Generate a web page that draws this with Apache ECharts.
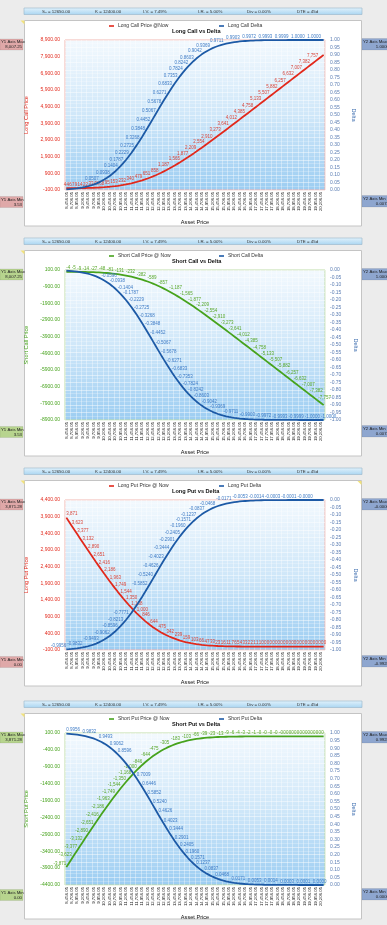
<!DOCTYPE html>
<html><head><meta charset="utf-8">
<script src="https://cdn.jsdelivr.net/npm/echarts@6/dist/echarts.min.js"></script>
<style>
html,body{margin:0;padding:0;background:#ececec;width:387px;height:925px;overflow:hidden}
.p{position:absolute;left:0;width:387px;height:230px}
</style></head><body>
<div id="c0" class="p" style="top:0"></div>
<div id="c1" class="p" style="top:230px"></div>
<div id="c2" class="p" style="top:460px"></div>
<div id="c3" class="p" style="top:693px;height:232px"></div>
<script>
const assetPrices = [8456.05,8581.05,8706.05,8831.05,8956.05,9081.05,9206.05,9331.05,9456.05,9581.05,
9706.05,9831.05,9956.05,10081.05,10206.05,10331.05,10456.05,10581.05,10706.05,10831.05,
10956.05,11081.05,11206.05,11331.05,11456.05,11581.05,11706.05,11831.05,11956.05,12081.05,
12206.05,12331.05,12456.05,12581.05,12706.05,12831.05,12956.05,13081.05,13206.05,13331.05,
13456.05,13581.05,13706.05,13831.05,13956.05,14081.05,14206.05,14331.05,14456.05,14581.05,
14706.05,14831.05,14956.05,15081.05,15206.05,15331.05,15456.05,15581.05,15706.05,15831.05,
15956.05,16081.05,16206.05,16331.05,16456.05,16581.05,16706.05,16831.05,16956.05,17081.05,
17206.05,17331.05,17456.05,17581.05,17706.05,17831.05,17956.05,18081.05,18206.05,18331.05,
18456.05,18581.05,18706.05,18831.05,18956.05,19081.05,19206.05,19331.05,19456.05,19581.05,
19706.05,19831.05,19956.05,20081.05,20206.05,20331.05];

const longCallPrice = [3.53,4.3,5.5,7.2,9.2,11.5,14.3,17.9,22.2,27.3,
33.3,40.3,48.3,57.6,68.3,80.8,95.3,112.0,131.0,152.5,
176.0,203.0,232.3,264.0,300.5,339.8,382.0,428.5,478.5,532.0,
589.5,650.8,716.0,785.0,857.5,933.5,1015.0,1099.5,1187.2,1278.0,
1371.5,1467.2,1565.0,1666.5,1770.5,1877.0,1985.5,2096.2,2209.0,2322.8,
2437.8,2554.0,2671.5,2790.2,2910.0,3030.3,3151.3,3273.0,3395.3,3518.0,
3641.1,3764.5,3888.2,4012.1,4136.2,4260.45,4384.8,4509.25,4633.8,4758.45,
4883.15,5007.9,5132.72,5257.58,5382.48,5507.4,5632.35,5757.31,5882.29,6007.27,
6132.26,6257.25,6382.25,6507.25,6632.25,6757.25,6882.25,7007.25,7132.25,7257.25,
7382.25,7507.25,7632.25,7757.25,7882.25,8007.25];

const longCallDelta = [0.0044,0.0056,0.0071,0.0089,0.0111,0.0137,0.0168,0.0205,0.0249,0.0300,
0.0359,0.0428,0.0507,0.0596,0.0698,0.0811,0.0938,0.1079,0.1234,0.1404,
0.1588,0.1787,0.2001,0.2229,0.2471,0.2725,0.2991,0.3268,0.3554,0.3848,
0.4148,0.4452,0.4760,0.5067,0.5374,0.5678,0.5977,0.6271,0.6556,0.6833,
0.7099,0.7353,0.7595,0.7824,0.8040,0.8242,0.8429,0.8603,0.8763,0.8909,
0.9042,0.9163,0.9271,0.9369,0.9455,0.9532,0.9600,0.9660,0.9711,0.9756,
0.9795,0.9829,0.9858,0.9882,0.9903,0.9920,0.9934,0.9947,0.9957,0.9965,
0.9972,0.9978,0.9982,0.9986,0.9989,0.9991,0.9993,0.9995,0.9996,0.9997,
0.9998,0.9998,0.9999,0.9999,0.9999,0.9999,1.0000,1.0000,1.0000,1.0000,
1.0000,1.0000,1.0000,1.0000,1.0000,1.0000];

const shortCallPrice = [-3.53,-4.3,-5.5,-7.2,-9.2,-11.5,-14.3,-17.9,-22.2,-27.3,
-33.3,-40.3,-48.3,-57.6,-68.3,-80.8,-95.3,-112.0,-131.0,-152.5,
-176.0,-203.0,-232.3,-264.0,-300.5,-339.8,-382.0,-428.5,-478.5,-532.0,
-589.5,-650.8,-716.0,-785.0,-857.5,-933.5,-1015.0,-1099.5,-1187.2,-1278.0,
-1371.5,-1467.2,-1565.0,-1666.5,-1770.5,-1877.0,-1985.5,-2096.2,-2209.0,-2322.8,
-2437.8,-2554.0,-2671.5,-2790.2,-2910.0,-3030.3,-3151.3,-3273.0,-3395.3,-3518.0,
-3641.1,-3764.5,-3888.2,-4012.1,-4136.2,-4260.45,-4384.8,-4509.25,-4633.8,-4758.45,
-4883.15,-5007.9,-5132.72,-5257.58,-5382.48,-5507.4,-5632.35,-5757.31,-5882.29,-6007.27,
-6132.26,-6257.25,-6382.25,-6507.25,-6632.25,-6757.25,-6882.25,-7007.25,-7132.25,-7257.25,
-7382.25,-7507.25,-7632.25,-7757.25,-7882.25,-8007.25];

const shortCallDelta = [-0.0044,-0.0056,-0.0071,-0.0089,-0.0111,-0.0137,-0.0168,-0.0205,-0.0249,-0.0300,
-0.0359,-0.0428,-0.0507,-0.0596,-0.0698,-0.0811,-0.0938,-0.1079,-0.1234,-0.1404,
-0.1588,-0.1787,-0.2001,-0.2229,-0.2471,-0.2725,-0.2991,-0.3268,-0.3554,-0.3848,
-0.4148,-0.4452,-0.4760,-0.5067,-0.5374,-0.5678,-0.5977,-0.6271,-0.6556,-0.6833,
-0.7099,-0.7353,-0.7595,-0.7824,-0.8040,-0.8242,-0.8429,-0.8603,-0.8763,-0.8909,
-0.9042,-0.9163,-0.9271,-0.9369,-0.9455,-0.9532,-0.9600,-0.9660,-0.9711,-0.9756,
-0.9795,-0.9829,-0.9858,-0.9882,-0.9903,-0.9920,-0.9934,-0.9947,-0.9957,-0.9965,
-0.9972,-0.9978,-0.9982,-0.9986,-0.9989,-0.9991,-0.9993,-0.9995,-0.9996,-0.9997,
-0.9998,-0.9998,-0.9999,-0.9999,-0.9999,-0.9999,-1.0000,-1.0000,-1.0000,-1.0000,
-1.0000,-1.0000,-1.0000,-1.0000,-1.0000,-1.0000];

const longPutPrice = [3871.28,3747.05,3623.25,3499.95,3376.95,3254.25,3132.05,3010.65,2889.95,2770.05,
2651.05,2533.05,2416.05,2300.35,2186.05,2073.55,1963.05,1854.75,1748.75,1645.25,
1543.75,1445.75,1350.05,1256.75,1168.25,1082.55,999.75,921.25,846.25,774.75,
707.25,643.55,583.75,527.75,475.25,426.25,382.75,342.25,304.95,270.75,
239.25,209.95,182.75,159.25,138.25,119.75,103.25,88.95,76.75,65.55,
55.55,46.75,39.25,32.95,27.75,23.05,19.05,15.75,13.05,10.75,
8.85,7.25,5.95,4.85,3.95,3.2,2.55,2.0,1.55,1.2,
0.9,0.65,0.47,0.33,0.23,0.15,0.1,0.06,0.04,0.02,
0.01,0,0,0,0,0,0,0,0,0,
0,0,0,0,0,0];

const longPutDelta = [-0.9956,-0.9944,-0.9929,-0.9911,-0.9889,-0.9863,-0.9832,-0.9795,-0.9751,-0.9700,
-0.9641,-0.9572,-0.9493,-0.9404,-0.9302,-0.9189,-0.9062,-0.8921,-0.8766,-0.8596,
-0.8412,-0.8213,-0.7999,-0.7771,-0.7529,-0.7275,-0.7009,-0.6732,-0.6446,-0.6152,
-0.5852,-0.5548,-0.5240,-0.4933,-0.4626,-0.4322,-0.4023,-0.3729,-0.3444,-0.3167,
-0.2901,-0.2647,-0.2405,-0.2176,-0.1960,-0.1758,-0.1571,-0.1397,-0.1237,-0.1091,
-0.0958,-0.0837,-0.0729,-0.0631,-0.0545,-0.0468,-0.0400,-0.0340,-0.0289,-0.0244,
-0.0205,-0.0171,-0.0142,-0.0118,-0.0097,-0.0080,-0.0066,-0.0053,-0.0043,-0.0035,
-0.0028,-0.0022,-0.0018,-0.0014,-0.0011,-0.0009,-0.0007,-0.0005,-0.0004,-0.0003,
-0.0002,-0.0002,-0.0001,-0.0001,-0.0001,-0.0001,-0.00001,-0.00001,-0.00001,-0.00001,
-0.00001,-0.00001,-0.00001,-0.00001,-0.00001,-0.00001];

const shortPutPrice = [-3871.28,-3747.05,-3623.25,-3499.95,-3376.95,-3254.25,-3132.05,-3010.65,-2889.95,-2770.05,
-2651.05,-2533.05,-2416.05,-2300.35,-2186.05,-2073.55,-1963.05,-1854.75,-1748.75,-1645.25,
-1543.75,-1445.75,-1350.05,-1256.75,-1168.25,-1082.55,-999.75,-921.25,-846.25,-774.75,
-707.25,-643.55,-583.75,-527.75,-475.25,-426.25,-382.75,-342.25,-304.95,-270.75,
-239.25,-209.95,-182.75,-159.25,-138.25,-119.75,-103.25,-88.95,-76.75,-65.55,
-55.55,-46.75,-39.25,-32.95,-27.75,-23.05,-19.05,-15.75,-13.05,-10.75,
-8.85,-7.25,-5.95,-4.85,-3.95,-3.2,-2.55,-2.0,-1.55,-1.2,
-0.9,-0.65,-0.47,-0.33,-0.23,-0.15,-0.1,-0.06,-0.04,-0.02,
-0.01,0,0,0,0,0,0,0,0,0,
0,0,0,0,0,0];

const shortPutDelta = [0.9956,0.9944,0.9929,0.9911,0.9889,0.9863,0.9832,0.9795,0.9751,0.9700,
0.9641,0.9572,0.9493,0.9404,0.9302,0.9189,0.9062,0.8921,0.8766,0.8596,
0.8412,0.8213,0.7999,0.7771,0.7529,0.7275,0.7009,0.6732,0.6446,0.6152,
0.5852,0.5548,0.5240,0.4933,0.4626,0.4322,0.4023,0.3729,0.3444,0.3167,
0.2901,0.2647,0.2405,0.2176,0.1960,0.1758,0.1571,0.1397,0.1237,0.1091,
0.0958,0.0837,0.0729,0.0631,0.0545,0.0468,0.0400,0.0340,0.0289,0.0244,
0.0205,0.0171,0.0142,0.0118,0.0097,0.0080,0.0066,0.0053,0.0043,0.0035,
0.0028,0.0022,0.0018,0.0014,0.0011,0.0009,0.0007,0.0005,0.0004,0.0003,
0.0002,0.0002,0.0001,0.0001,0.0001,0.0001,0.0000,0.0000,0.0000,0.0000,
0.0000,0.0000,0.0000,0.0000,0.0000,0.0000];

const infoTexts = ['S\u2080 = 12650.00','K = 12400.00','I.V. = 7.49%','I.R. = 5.00%','Div = 0.00%','DTE = 45d'];
const infoX = [42,95,143,198,247,297];

const FONT = '"Liberation Sans", Arial, Helvetica, sans-serif';
const RED='#e2291c', REDL='#d9463b', GREEN='#47a31d', GREENL='#5aa82c', BLUE='#1d5aa6', BLUEL='#3f7cc6';

const panels = [
 {title:'Long Call vs Delta', pName:'Long Call Price @Now', dName:'Long Call Delta', price:longCallPrice, delta:longCallDelta,
  pColor:RED, pLabel:REDL, y1Name:'Long Call Price', y1:[-100,8900,1000], comma:true, y2:[0,1],
  side:['8,007.25','3.53','1.0000','0.0072'], box:'#dfa8a8', border:'#f1b6b0', pAlign:'right', dAlign:'right', triR:false},
 {title:'Short Call vs Delta', pName:'Short Call Price @ Now', dName:'Short Call Delta', price:shortCallPrice, delta:shortCallDelta,
  pColor:GREEN, pLabel:GREENL, y1Name:'Short Call Price', y1:[-8900,100,1000], comma:false, y2:[-1,0],
  side:['8,007.25','3.53','1.0000','0.0072'], box:'#b7d48e', border:'#bfdca8', pAlign:'left', dAlign:'left', triR:false},
 {title:'Long Put vs Delta', pName:'Long Put Price @ Now', dName:'Long Put Delta', price:longPutPrice, delta:longPutDelta,
  pColor:RED, pLabel:REDL, y1Name:'Long Put Price', y1:[-100,4400,500], comma:true, y2:[-1,0],
  side:['3,871.28','0.00','-0.0000','-0.9928'], box:'#dfa8a8', border:'#f1b6b0', pAlign:'left', dAlign:'right', triR:true},
 {title:'Short Put vs Delta', pName:'Short Put Price @ Now', dName:'Short Put Delta', price:shortPutPrice, delta:shortPutDelta,
  pColor:GREEN, pLabel:GREENL, y1Name:'Short Put Price', y1:[-4400,100,500], comma:false, y2:[0,1],
  side:['3,871.28','0.00','0.9928','0.0000'], box:'#b7d48e', border:'#bfdca8', pAlign:'right', dAlign:'left', triR:false}
];

function fmt2(v, comma){
  return comma ? v.toLocaleString('en-US',{minimumFractionDigits:2,maximumFractionDigits:2}) : v.toFixed(2);
}
function sideBox(x, y, w, h, fill, t1, t2, right){
  return {type:'group', children:[
    {type:'rect', shape:{x:x,y:y,width:w,height:h}, style:{fill:fill, stroke:'rgba(0,0,0,0.15)', lineWidth:0.5}},
    {type:'text', x: x+1, y: y+3, style:{text:t1, fontSize:4.3, fontFamily:FONT, fill:'#222', verticalAlign:'middle'}},
    {type:'text', x: right ? x+w+1 : x+w-1, y: y+8, style:{text:t2, fontSize:4.3, fontFamily:FONT, fill:'#222', align:'right', verticalAlign:'middle'}}
  ]};
}

function build(cfg){
  const g = [];
  g.push({type:'rect', z:-10, shape:{x:24,y:8,width:338,height:6.5},
    style:{fill:{type:'linear',x:0,y:0,x2:0,y2:1,colorStops:[{offset:0,color:'#e2f2fc'},{offset:1,color:'#a9d5f1'}]}, stroke:'#98b6ca', lineWidth:0.6}});
  infoTexts.forEach((t,i)=>g.push({type:'text', z:-9, x:infoX[i], y:11.3, style:{text:t, fontSize:4.4, fontFamily:FONT, fill:'#333', verticalAlign:'middle'}}));
  g.push({type:'rect', z:-10, shape:{x:24.5,y:20.5,width:337,height:205.5}, style:{fill:'#ffffff', stroke:'#c4c4c4', lineWidth:1}});
  g.push({type:'polygon', z:-8, shape:{points:[[20.5,20.5],[24.5,20.5],[24.5,24.5]]}, style:{fill:'#f2e27a'}});
  if(cfg.triR) g.push({type:'polygon', z:-8, shape:{points:[[357.5,21],[361.5,21],[361.5,25]]}, style:{fill:'#f2e27a'}});
  g.push(sideBox(0,39,23,11,cfg.box,'Y1 Axis Max',cfg.side[0],false));
  g.push(sideBox(0,196.5,23,11,cfg.box,'Y1 Axis Min',cfg.side[1],false));
  g.push(sideBox(362,38.5,26,11.5,'#8ea6cf','Y2 Axis Max',cfg.side[2],true));
  g.push(sideBox(362,195.5,26,11.5,'#8ea6cf','Y2 Axis Min',cfg.side[3],true));

  const priceFmt = p => Math.round(p.value).toLocaleString('en-US');
  const deltaFmt = p => p.value.toFixed(4);
  return {
    animation:false,
    textStyle:{fontFamily:FONT},
    graphic:g,
    title:{text:cfg.title, left:172, top:28, padding:0, textStyle:{fontSize:5.6, fontWeight:'bold', color:'#111', fontFamily:FONT}},
    legend:[
      {data:[cfg.pName], left:109, top:23.5, padding:0, icon:'rect', itemWidth:5, itemHeight:1.6, itemGap:2,
       textStyle:{fontSize:5, color:'#333', fontFamily:FONT, padding:[0,0,0,-1]}},
      {data:[cfg.dName], left:219, top:23.5, padding:0, icon:'rect', itemWidth:5, itemHeight:1.6, itemGap:2,
       textStyle:{fontSize:5, color:'#333', fontFamily:FONT, padding:[0,0,0,-1]}}
    ],
    grid:{left:65, top:40, width:260, height:156, show:true, borderColor:cfg.border, borderWidth:1,
      backgroundColor:{type:'linear',x:0,y:0,x2:0,y2:1,colorStops:[{offset:0,color:'#f3f9fe'},{offset:0.5,color:'#cfe7f9'},{offset:1,color:'#9ccdf2'}]}},
    xAxis:{type:'category', data:assetPrices, boundaryGap:true,
      axisLine:{show:false}, axisTick:{show:false},
      axisLabel:{rotate:90, interval:1, fontSize:4.3, color:'#222', margin:2,
        formatter:v=>Number(v).toLocaleString('en-US',{minimumFractionDigits:2,maximumFractionDigits:2})},
      splitLine:{show:true, interval:1, lineStyle:{color:'rgba(255,255,255,0.6)', width:0.6}},
      name:'Asset Price', nameLocation:'middle', nameGap:26, nameTextStyle:{fontSize:5.6, color:'#111'}},
    yAxis:[
      {type:'value', position:'left', min:cfg.y1[0], max:cfg.y1[1], interval:cfg.y1[2],
       axisLine:{show:false}, axisTick:{show:false}, splitLine:{show:false},
       axisLabel:{fontSize:5, color:cfg.pColor, margin:5, formatter:v=>fmt2(v,cfg.comma)},
       name:cfg.y1Name, nameLocation:'middle', nameGap:25, nameRotate:90, nameTextStyle:{fontSize:5.6, color:cfg.pColor}},
      {type:'value', position:'right', min:cfg.y2[0], max:cfg.y2[1], interval:0.05,
       axisLine:{show:false}, axisTick:{show:false},
       splitLine:{show:true, lineStyle:{color:'rgba(255,255,255,0.75)', width:0.6}},
       minorTick:{show:false, splitNumber:2},
       minorSplitLine:{show:true, lineStyle:{color:'rgba(255,255,255,0.45)', width:0.5}},
       axisLabel:{fontSize:5, color:'#5b7db3', margin:5, formatter:v=>{const s=v.toFixed(2); return s==='-0.00'?'0.00':s;}},
       name:'Delta', nameLocation:'middle', nameGap:15, nameRotate:-90, nameTextStyle:{fontSize:5.6, color:'#3f6fb0'}}
    ],
    series:[
      {type:'line', name:cfg.pName, data:cfg.price, yAxisIndex:0, symbol:'circle', symbolSize:0.1, showSymbol:true,
       lineStyle:{color:cfg.pColor, width:1.8}, itemStyle:{color:cfg.pColor},
       label:{show:true, position:'top', align:cfg.pAlign, distance:1, fontSize:4.5, color:cfg.pLabel, formatter:priceFmt},
       labelLayout:{hideOverlap:true}, z:3},
      {type:'line', name:cfg.dName, data:cfg.delta, yAxisIndex:1, symbol:'circle', symbolSize:0.1, showSymbol:true,
       lineStyle:{color:BLUE, width:1.8}, itemStyle:{color:BLUE},
       label:{show:true, position:'top', align:cfg.dAlign, distance:1, fontSize:4.5, color:BLUEL, formatter:deltaFmt},
       labelLayout:{hideOverlap:true}, z:4}
    ]
  };
}

panels.forEach((cfg,i)=>{
  const ch = echarts.init(document.getElementById('c'+i), null, {renderer:'canvas'});
  ch.setOption(build(cfg));
});
</script>
</body></html>
